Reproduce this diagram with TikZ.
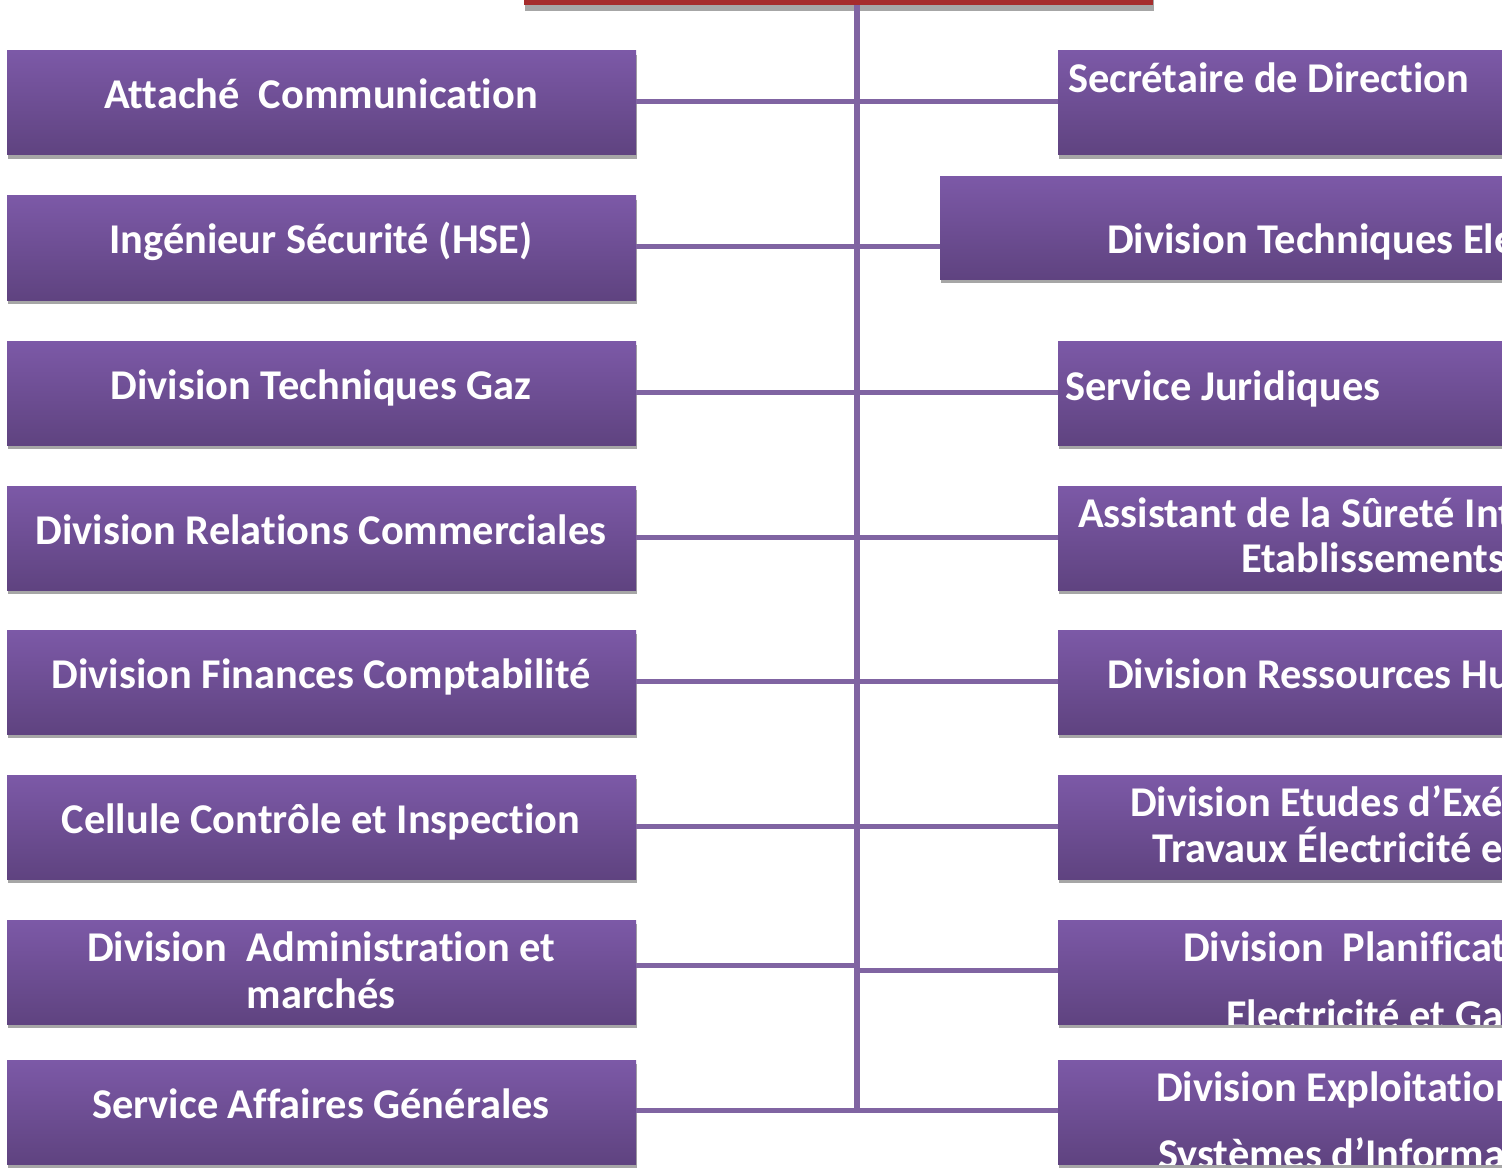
\documentclass[tikz,border=0pt]{standalone}
\usepackage{fontspec}
\setmainfont{Carlito}[Ligatures=NoCommon]
\usetikzlibrary{shadows}
\definecolor{boxtop}{RGB}{124,89,167}
\definecolor{boxbot}{RGB}{95,67,128}
\definecolor{linkc}{RGB}{128,100,162}
\definecolor{shadowc}{RGB}{166,166,166}
\definecolor{headred}{RGB}{165,44,44}
\begin{document}
\begin{tikzpicture}[x=1pt,y=-1pt,
  unitbox/.style={rectangle, inner sep=0, minimum width=629, minimum height=104,
    top color=boxtop, bottom color=boxbot, draw=none,
    drop shadow={shadow xshift=1pt, shadow yshift=-4pt, fill=shadowc, opacity=1}},
  headbox/.style={rectangle, inner sep=0, minimum width=629, minimum height=104,
    fill=headred, draw=none,
    drop shadow={shadow xshift=1pt, shadow yshift=-6pt, fill=shadowc, opacity=1}},
  lbl/.style={inner sep=0, text=white, font=\fontsize{42.4}{46}\selectfont\bfseries, anchor=base},
  rlbl/.style={lbl, anchor=base west},
  link/.style={draw=linkc, line width=5pt},
  trunk/.style={draw=linkc, line width=6.5pt}]
\clip (0,0) rectangle (1502,1169);

% director box (only its lower edge is in view)
\node[headbox] (head) at (838.5,-47) {};

% left column
\node[unitbox] (L1) at (321.5,103) {};
\node[unitbox] (L2) at (321.5,248) {};
\node[unitbox] (L3) at (321.5,393) {};
\node[unitbox] (L4) at (321.5,538) {};
\node[unitbox] (L5) at (321.5,682) {};
\node[unitbox] (L6) at (321.5,827) {};
\node[unitbox] (L7) at (321.5,972) {};
\node[unitbox] (L8) at (321.5,1112) {};

% right column
\node[unitbox] (R1) at (1372.5,103) {};
\node[unitbox, minimum width=700, minimum height=102] (R2) at (1290,228) {};
\node[unitbox] (R3) at (1372.5,393) {};
\node[unitbox] (R4) at (1372.5,538) {};
\node[unitbox] (R5) at (1372.5,682) {};
\node[unitbox] (R6) at (1372.5,827) {};
\node[unitbox] (R7) at (1372.5,972) {};
\node[unitbox] (R8) at (1372.5,1112) {};

% junctions on the trunk
\coordinate (a1) at (857,102);
\coordinate (a2) at (857,247);
\coordinate (a3) at (857,392);
\coordinate (a4) at (857,537);
\coordinate (a5) at (857,681);
\coordinate (a6) at (857,826);
\coordinate (a7) at (857,965);
\coordinate (b7) at (857,970);
\coordinate (a8) at (857,1110);
\coordinate (tend) at (857,1113);

% trunk
\draw[trunk] (head.south -| tend) -- (tend);

% branches
\draw[link] (L1.east |- a1) -- (R1.west |- a1);
\draw[link] (L2.east |- a2) -- (R2.west |- a2);
\draw[link] (L3.east |- a3) -- (R3.west |- a3);
\draw[link] (L4.east |- a4) -- (R4.west |- a4);
\draw[link] (L5.east |- a5) -- (R5.west |- a5);
\draw[link] (L6.east |- a6) -- (R6.west |- a6);
\draw[link] (L7.east |- a7) -- (a7);
\draw[link] (b7) -- (R7.west |- b7);
\draw[link] (L8.east |- a8) -- (R8.west |- a8);

% left labels
\node[lbl] (t1) at (321,109) {Attaché\ \ Communication};
\node[lbl] (t2) at (321,254) {Ingénieur Sécurité (HSE)};
\node[lbl] (t3) at (321,399) {Division Techniques Gaz};
\node[lbl] (t4) at (321,544) {Division Relations Commerciales};
\node[lbl] (t5) at (321,688) {Division Finances Comptabilité};
\node[lbl] (t6) at (321,833) {Cellule Contrôle et Inspection};
\node[lbl] (t7a) at (321,961) {Division\ \ Administration et};
\node[lbl] (t7b) at (321,1008) {marchés};
\node[lbl] (t8) at (321,1118) {Service Affaires Générales};

% right labels
\node[rlbl] (u1) at (1068,93) {Secrétaire de Direction};
\node[rlbl] (u2) at (1107,254) {Division Techniques Electricité};
\node[rlbl] (u3) at (1065,400) {Service Juridiques};
\node[rlbl] (u4a) at (1078,527) {Assistant de la Sûreté Interne des};
\node[rlbl] (u4b) at (1241,572) {Etablissements};
\node[rlbl] (u5) at (1107,688) {Division Ressources Humaines};
\node[rlbl] (u6a) at (1130,816) {Division Etudes d’Exécution et};
\node[rlbl] (u6b) at (1152,862) {Travaux Électricité et Gaz};
\node[rlbl] (u7a) at (1183,961) {Division\ \ Planification};
\begin{scope}
  \clip (R7.north west) rectangle (R7.south east);
  \node[rlbl] (u7b) at (1226,1029) {Electricité et Gaz};
\end{scope}
\node[rlbl] (u8a) at (1156,1101) {Division Exploitation};
\begin{scope}
  \clip (R8.north west) rectangle (R8.south east);
  \node[rlbl] (u8b) at (1158,1168) {Systèmes d’Information};
\end{scope}
\end{tikzpicture}
\end{document}
